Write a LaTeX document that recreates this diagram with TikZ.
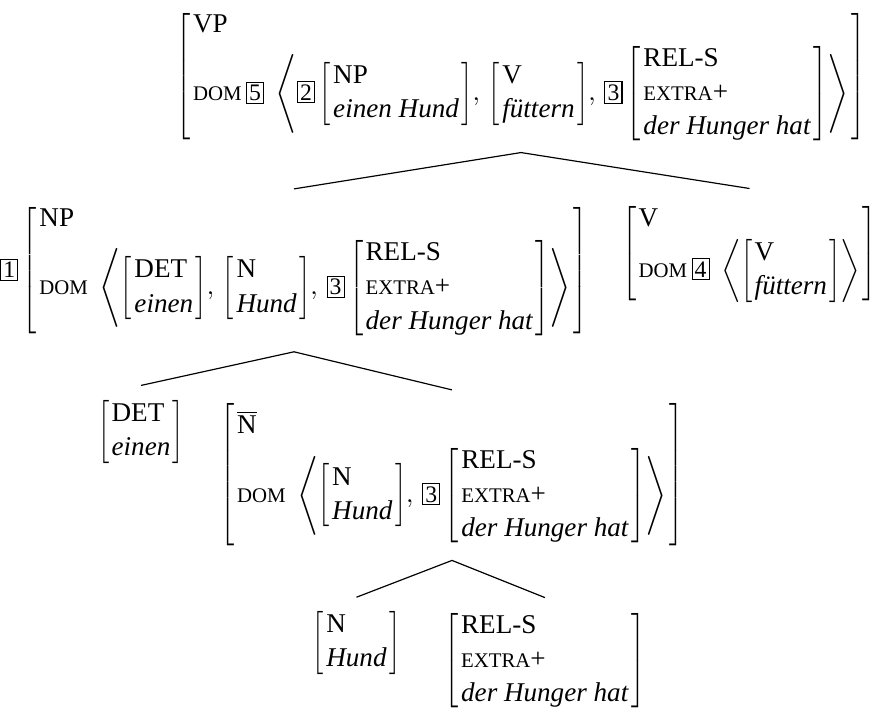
\documentclass[tikz,border=0pt]{standalone}
\usepackage{fontspec}
\usepackage{amsmath}
\setmainfont{Liberation Serif}
\setlength{\fboxsep}{0.8pt}
\setlength{\fboxrule}{0.4pt}
% brackets scaled to the exact height of their content
\newsavebox{\avmcell}
\newlength{\avmtotal}
\newcommand{\brkl}{$\vcenter{\hbox{\resizebox*{0.8\width}{\avmtotal}{$\left[\vrule height\ht\avmcell depth\dp\avmcell width0pt\right.$}}}$}
\newcommand{\brkr}{$\vcenter{\hbox{\resizebox*{0.8\width}{\avmtotal}{$\left.\vrule height\ht\avmcell depth\dp\avmcell width0pt\right]$}}}$}
\newcommand{\avm}[1]{{\sbox{\avmcell}{$\begin{array}{@{}l@{}}#1\end{array}$}%
  \setlength{\avmtotal}{\dimexpr\ht\avmcell+\dp\avmcell\relax}%
  \vcenter{\hbox{\brkl\usebox{\avmcell}\brkr}}}}
\newcommand{\lst}[1]{\left\langle #1 \right\rangle}
\newcommand{\tg}[1]{\fbox{\small #1}}
\newcommand{\fsc}[1]{{\fontsize{7.9}{8}\selectfont\MakeUppercase{#1}}}
\newcommand{\ft}[1]{\text{\fsc{#1}}}
\newcommand{\val}[1]{\text{\textit{#1}}}
\newcommand{\typ}[1]{\text{#1}}
\newcommand{\relsbox}{\avm{\typ{REL-S}\\ \typ{\fsc{extra}+}\\ \val{der Hunger hat}}}
\begin{document}
\begin{tikzpicture}[x=0.38pt,y=-0.38pt,
    branch/.style={line width=0.45pt},
    every node/.style={inner sep=0pt,font=\fontsize{10.3}{13}\selectfont}]
  \useasboundingbox (0,0) rectangle (871,715);
  % top
  \node (vp) at (521,76.5)
    {$\avm{\typ{VP}\\ \ft{dom}\,\tg{5}\;\lst{\tg{2}\,\avm{\typ{NP}\\ \val{einen Hund}},\,
      \avm{\typ{V}\\ \val{füttern}},\,\tg{3}\,\relsbox}}$};
  % second row
  \node (np) at (294,271)
    {$\tg{1}\,\avm{\typ{NP}\\ \ft{dom}\;\lst{\avm{\typ{DET}\\ \val{einen}},\,
      \avm{\typ{N}\\ \val{Hund}},\,\tg{3}\,\relsbox}}$};
  \node (v) at (749.5,253.5)
    {$\avm{\typ{V}\\ \ft{dom}\,\tg{4}\;\lst{\avm{\typ{V}\\ \val{füttern}}}}$};
  % third row
  \node (det) at (141,432) {$\avm{\typ{DET}\\ \val{einen}}$};
  \node (nbar) at (452,474.5)
    {$\avm{\rule{0pt}{12pt}\overline{\typ{N}}\\ \ft{dom}\;\lst{\avm{\typ{N}\\ \val{Hund}},\,\tg{3}\,\relsbox}}$};
  % bottom
  \node (n) at (356.5,643) {$\avm{\typ{N}\\ \val{Hund}}$};
  \node (rels) at (545,660.5) {$\relsbox$};
  % branches
  \draw[branch] ([yshift=-2.7pt]vp.south) -- ([yshift=5pt]np.north);
  \draw[branch] ([yshift=-2.7pt]vp.south) -- ([yshift=5pt]v.north);
  \draw[branch] ([yshift=-4.5pt]np.south) -- ([yshift=4.5pt]det.north);
  \draw[branch] ([yshift=-4.5pt]np.south) -- ([yshift=4.5pt]nbar.north);
  \draw[branch] ([yshift=-5pt]nbar.south) -- ([yshift=4.2pt]n.north);
  \draw[branch] ([yshift=-5pt]nbar.south) -- ([yshift=4.2pt]rels.north);
\end{tikzpicture}
\end{document}
